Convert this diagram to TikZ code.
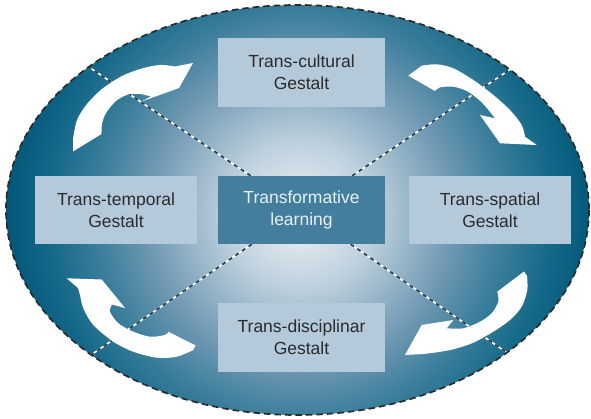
\documentclass[tikz,border=0pt]{standalone}
\usepackage{fontspec}
\setmainfont{Liberation Sans}
\usepackage{xcolor}
\usepackage{tikz}
\definecolor{rimdark}{HTML}{2A2A2A}
\definecolor{spokedark}{HTML}{1E3A4C}
\definecolor{boxfill}{HTML}{B4C9DA}
\definecolor{boxtext}{HTML}{2B2B2B}
\definecolor{hubfill}{HTML}{437E9C}
\definecolor{hubtext}{HTML}{EAF1F6}
\definecolor{bowlA}{HTML}{EEF3F7}
\definecolor{bowlB}{HTML}{BFD1DE}
\definecolor{bowlC}{HTML}{6C96B1}
\definecolor{bowlD}{HTML}{3A7E9B}
\definecolor{bowlE}{HTML}{156888}
\definecolor{bowlF}{HTML}{005476}
\pgfdeclareradialshading{bowl}{\pgfpointorigin}{color(0bp)=(bowlA); color(6bp)=(bowlB); color(13bp)=(bowlC); color(17bp)=(bowlD); color(21bp)=(bowlE); color(25bp)=(bowlF); color(50bp)=(bowlF)}
\tikzset{
  box/.style={fill=boxfill, text=boxtext, minimum width=167pt, minimum height=69pt, inner sep=0pt, align=center, font=\fontsize{17.5}{22}\selectfont},
  sidebox/.style={box, minimum width=162pt, minimum height=68pt},
  hub/.style={box, minimum height=68pt, fill=hubfill, text=hubtext},
  rim/.style={draw=rimdark, line width=1.7pt, dash pattern=on 6.5pt off 4pt},
  spokeBase/.style={draw=white, line width=1.6pt},
  spokeDash/.style={draw=spokedark, line width=1.6pt, dash pattern=on 4pt off 4pt},
  sweep/.style={fill=white}
}

\begin{document}
\begin{tikzpicture}[x=1pt,y=-1pt]
\useasboundingbox (0,0) rectangle (591,419);
% shaded bowl
\coordinate (E) at (297.5,210);
\begin{scope}
\clip (E) ellipse [x radius=291.5, y radius=205];
\shade[shading=bowl] (300,215) circle [radius=300];
\end{scope}

% boxes
\node[hub] (learn) at (301.5,210) {Transformative\\learning};
\node[box] (cultural) at (301.5,72.5) {Trans-cultural\\Gestalt};
\node[sidebox] (temporal) at (116,210) {Trans-temporal\\Gestalt};
\node[sidebox] (spatial) at (490,210) {Trans-spatial\\Gestalt};
\node[box] (disciplinar) at (301.5,337.5) {Trans-disciplinar\\Gestalt};

% spokes, cut at the rim
\coordinate (tl) at (74,57);
\coordinate (tr) at (530,56);
\coordinate (bl) at (75,366);
\coordinate (br) at (529,368);
\begin{scope}
\clip (E) ellipse [x radius=291.5, y radius=205];
\foreach \e in {tl,tr,bl,br} {
  \draw[spokeBase] (learn) -- (\e);
  \draw[spokeDash] (learn) -- (\e);
}
\end{scope}

% sweeps
\fill[sweep] (73,151.5)
  -- plot[smooth] coordinates {(73,139) (77,120) (87,104) (102,89) (122,76) (142,68.5) (160,65) (175,66.5)}
  -- (193,63) -- (179,88) -- (141.5,101.5) -- (151,96.5)
  -- plot[smooth] coordinates {(151,96.5) (140,94) (128,94.5) (116,101) (106,113) (102,124) (101.5,134)}
  -- cycle;
\fill[sweep] (408.3,75.7)
  -- plot[smooth] coordinates {(421.7,65.7) (436.7,64.3) (453.3,68.3) (473.3,80) (493.3,95) (510,110) (521.7,125) (525,136.7)}
  -- (536.7,145) -- (500,143.3) -- (480,115) -- (495,118.3)
  -- plot[smooth] coordinates {(495,118.3) (486,107) (478,99) (466.7,91) (453.3,86.7) (440,87.3) (435,91)}
  -- cycle;
\fill[sweep] (524,271.5)
  -- plot[smooth] coordinates {(527,276) (527.3,290) (521.7,306.7) (510,320) (493.3,331.7) (473.3,342.7) (453.3,349.3) (436.7,352.3) (423.3,354)}
  -- (405,355) -- (421.7,325) -- (453.3,320) -- (446.7,328.3)
  -- plot[smooth] coordinates {(446.7,328.3) (463.3,328.3) (480,321.7) (491.7,313.3) (498.3,301.7) (497.3,291.7)}
  -- cycle;
\fill[sweep] (66.7,278.3) -- (101.7,279.5) -- (125,308) -- (112,304.5)
  -- plot[smooth] coordinates {(112,304.5) (110,311.7) (118.3,323.3) (133.3,331.7) (150,336.7) (165,335) (168.3,331.7)}
  -- (195.5,345.5)
  -- plot[smooth] coordinates {(193.3,350) (176.7,356.7) (156.7,357.7) (133.3,351.7) (113.3,341.7) (93.3,325) (83.3,308.3) (80,295) (78,288)}
  -- cycle;

% rim
\draw[rim] (E) ellipse [x radius=291.5, y radius=205];
\end{tikzpicture}
\end{document}
